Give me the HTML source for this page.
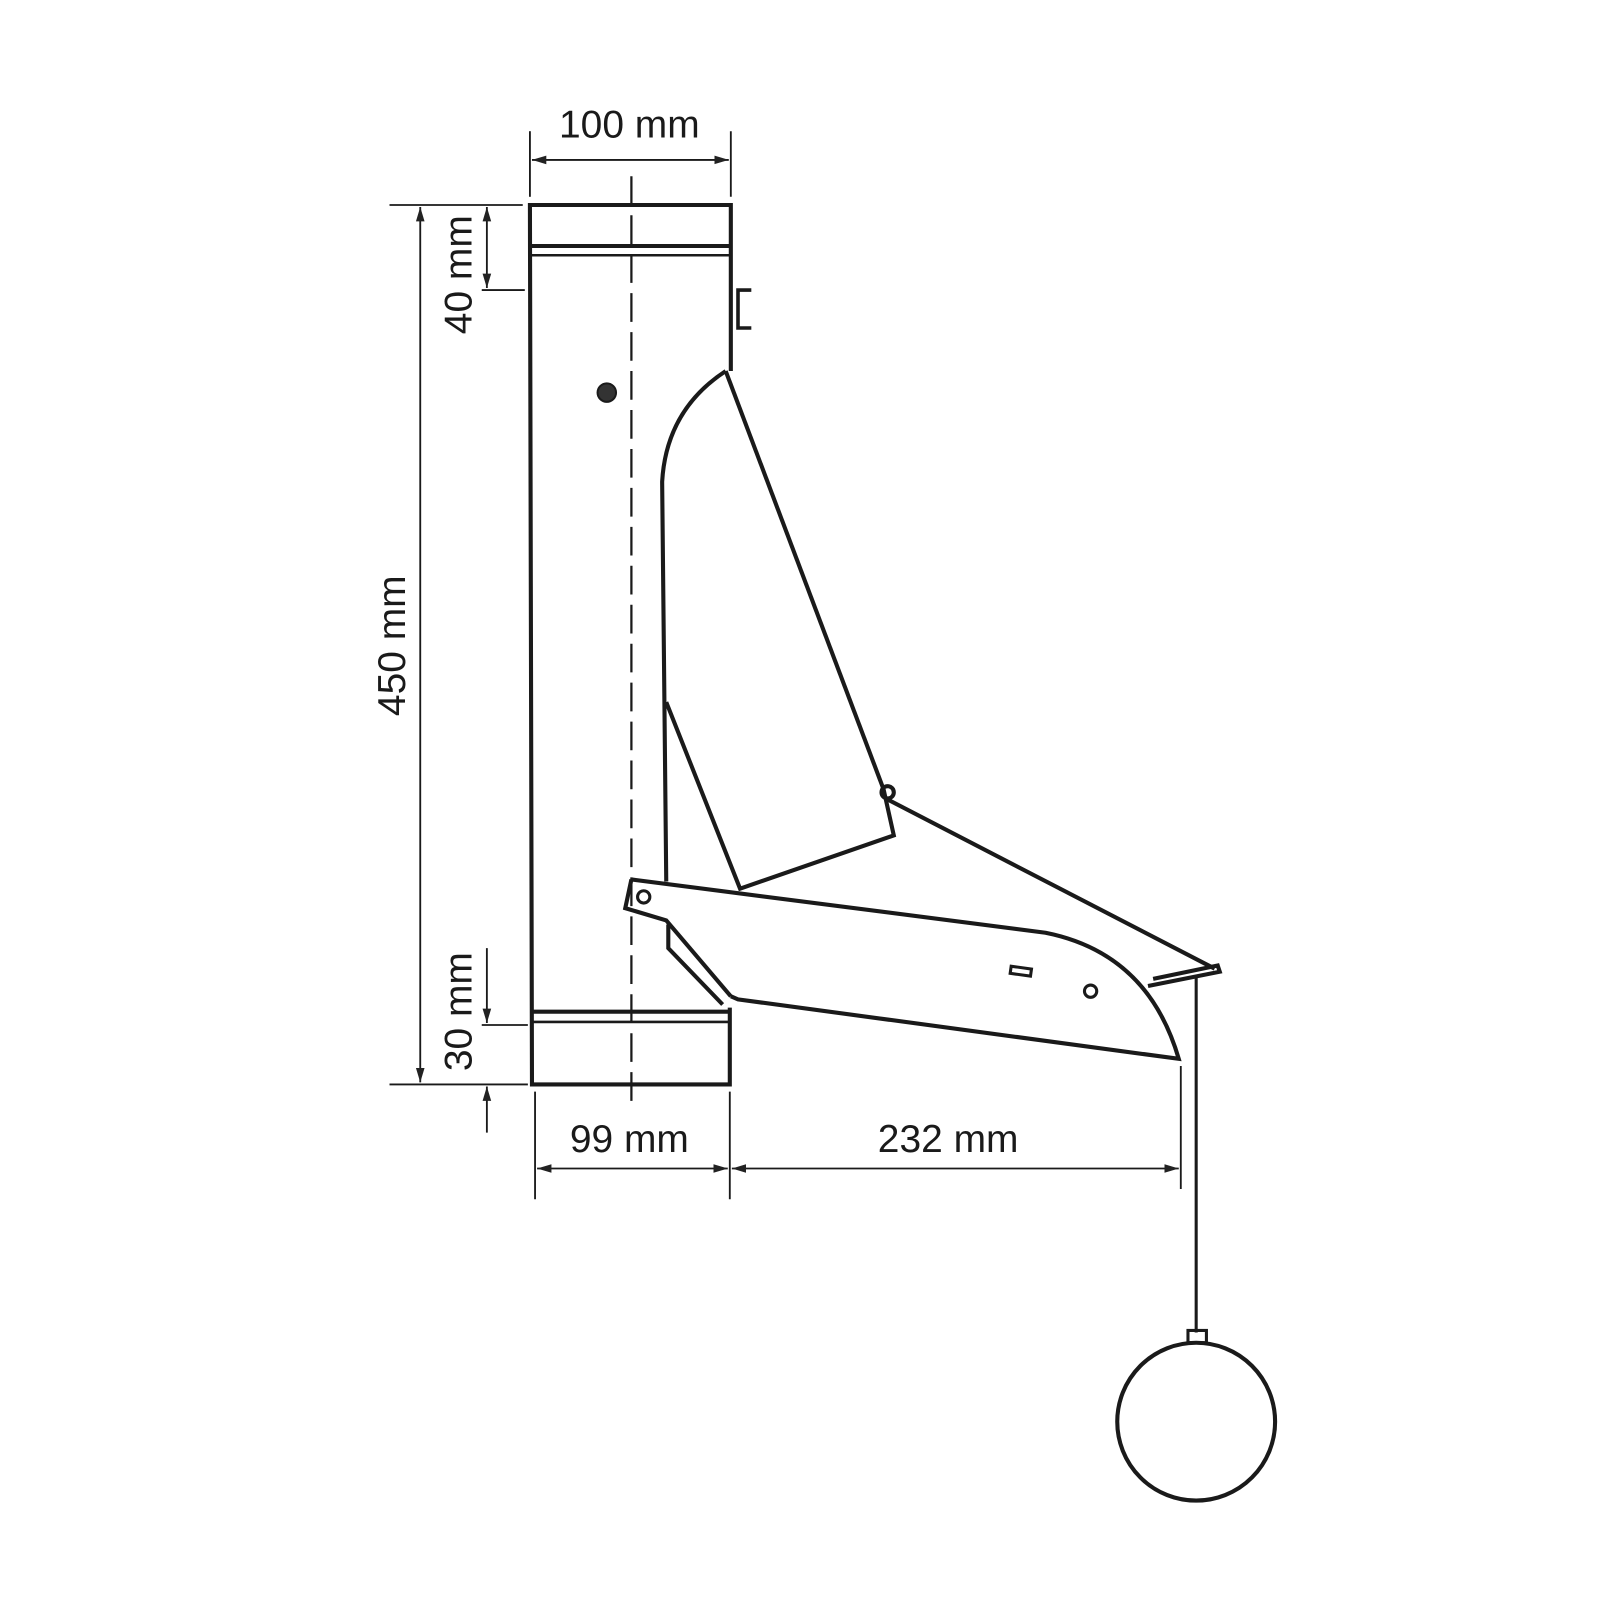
<!DOCTYPE html>
<html><head><meta charset="utf-8"><style>html,body{margin:0;padding:0;background:#fff}svg{display:block}</style></head>
<body>
<svg width="1600" height="1600" viewBox="0 0 1600 1600" xmlns="http://www.w3.org/2000/svg">
<defs>
<marker id="a" viewBox="0 0 10 10" refX="10" refY="5" markerWidth="14" markerHeight="12" orient="auto-start-reverse" markerUnits="userSpaceOnUse" preserveAspectRatio="none"><path d="M0,1.5 L10,5 L0,8.5 z" fill="#222"/></marker>
</defs>
<g transform="scale(1.025)" fill="none" stroke="#1a1a1a" font-family="Liberation Sans, sans-serif">
<line x1="616" y1="172" x2="616" y2="1080" stroke-width="2.2" stroke-dasharray="28,10"/>
<g stroke-width="4">
<polyline points="713,362 713,200 517,200 519,1058 712,1058 712,983"/>
<line x1="517" y1="240" x2="713" y2="240"/>
<line x1="517" y1="249" x2="713" y2="249" stroke-width="2.5"/>
<line x1="520" y1="987" x2="712" y2="987"/>
<line x1="520" y1="997" x2="712" y2="997" stroke-width="2.5"/>
<polyline points="733,283 720,283 720,320 733,320" stroke-width="3.5"/>
<path d="M708,362 Q650,400 646,470 L650,860"/>
<line x1="708" y1="362" x2="862" y2="770"/>
<polyline points="862,770 872,815 722,867 650,685"/>
<path d="M616,858 L1020,910 Q1120,930 1150,1033 L720,975 L713,972"/>
<polyline points="616,858 610,886 650,898 713,972"/>
<polyline points="652,902 652,925 705,980"/>
<line x1="866" y1="780" x2="1185" y2="945"/>
<polyline points="1120,962 1190,948 1188,942 1125,955"/>
<line x1="1167" y1="952" x2="1167" y2="1300" stroke-width="3"/>
<rect x="1159" y="1298" width="18" height="12" stroke-width="3"/>
<circle cx="1167" cy="1387" r="77"/>
</g>
<circle cx="866" cy="773" r="6" stroke-width="4"/>
<circle cx="628" cy="875" r="6" stroke-width="3"/>
<circle cx="1064" cy="967" r="6" stroke-width="3"/>
<rect x="986" y="944" width="20" height="7" stroke-width="3" transform="rotate(8 996 947)"/>
<circle cx="592" cy="383" r="9" fill="#333" stroke-width="2"/>
<g stroke-width="1.8">
<line x1="517" y1="128" x2="517" y2="192"/><line x1="713" y1="128" x2="713" y2="192"/>
<line x1="519" y1="156" x2="711" y2="156" marker-start="url(#a)" marker-end="url(#a)"/>
<line x1="380" y1="200" x2="510" y2="200"/><line x1="380" y1="1058" x2="515" y2="1058"/>
<line x1="410" y1="202" x2="410" y2="1056" marker-start="url(#a)" marker-end="url(#a)"/>
<line x1="470" y1="283" x2="512" y2="283"/>
<line x1="475" y1="202" x2="475" y2="281" marker-start="url(#a)" marker-end="url(#a)"/>
<line x1="470" y1="1000" x2="515" y2="1000"/>
<line x1="475" y1="925" x2="475" y2="998" marker-end="url(#a)"/>
<line x1="475" y1="1105" x2="475" y2="1060" marker-end="url(#a)"/>
<line x1="522" y1="1065" x2="522" y2="1170"/><line x1="712" y1="1065" x2="712" y2="1170"/>
<line x1="1152" y1="1040" x2="1152" y2="1160"/>
<line x1="524" y1="1140" x2="710" y2="1140" marker-start="url(#a)" marker-end="url(#a)"/>
<line x1="714" y1="1140" x2="1150" y2="1140" marker-start="url(#a)" marker-end="url(#a)"/>
</g>
<g fill="#1a1a1a" stroke="none" font-size="38">
<text x="614" y="134" text-anchor="middle">100 mm</text>
<text x="614" y="1124" text-anchor="middle">99 mm</text>
<text x="925" y="1124" text-anchor="middle">232 mm</text>
<text transform="translate(395,630) rotate(-90)" text-anchor="middle">450 mm</text>
<text transform="translate(460,268) rotate(-90)" text-anchor="middle">40 mm</text>
<text transform="translate(460,987) rotate(-90)" text-anchor="middle">30 mm</text>
</g>
</g>
</svg>
</body></html>
